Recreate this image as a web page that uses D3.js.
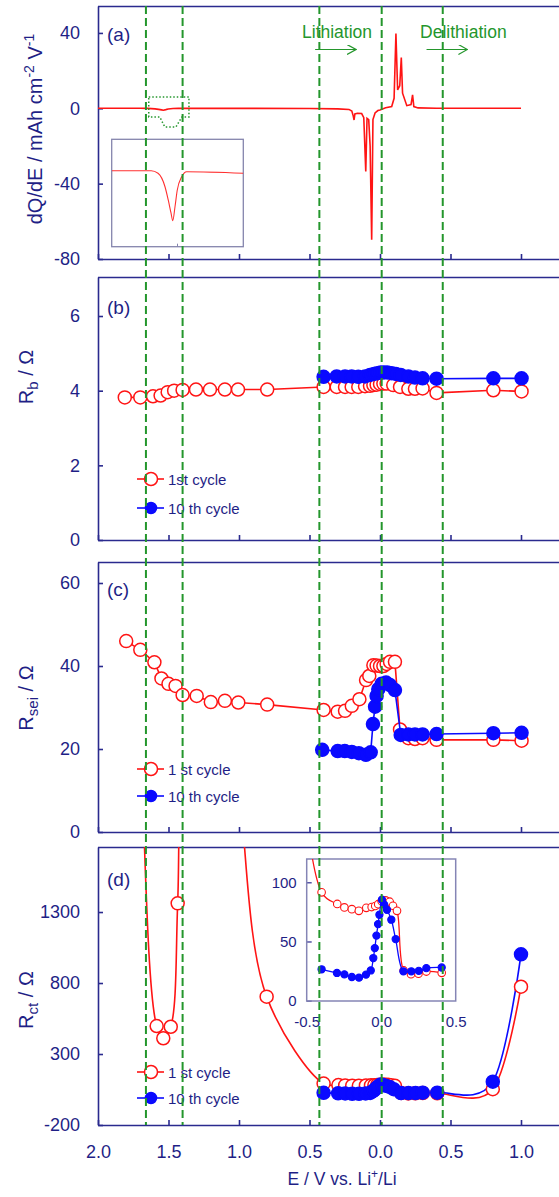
<!DOCTYPE html>
<html>
<head>
  <meta charset="utf-8">
  <title>dQ/dE and impedance vs potential</title>
  <script src="https://cdn.jsdelivr.net/npm/d3@7"></script>
  <style>
    body { margin: 0; background: #ffffff; }
    svg text { font-family: "Liberation Sans", Arial, sans-serif; fill: #1f1f86; }
    .axis path, .axis line { stroke: #2a2a8e; stroke-width: 1.6; }
    .axis text { font-size: 18px; }
    .inset path, .inset line { stroke: #2a2a8e; stroke-width: 1.2; }
    .inset text { font-size: 15px; }
  </style>
</head>
<body>
<script>
  // sweep coordinate: negative = lithiation (E going down from 2 V), positive = delithiation
  var xTicks = [-2, -1.5, -1, -0.5, 0, 0.5, 1];
  var yTicksA = [-80, -40, 0, 40];
  var yTicksB = [0, 2, 4, 6];
  var yTicksC = [0, 20, 40, 60];
  var yTicksD = [-200, 300, 800, 1300];
  var insetTicksD = [0, 50, 100];
  var insetXTicksD = [-0.5, 0, 0.5];
  var guideLines = [-1.66, -1.40, -0.43, 0.012, 0.445];
  var cycleNamesB = ["1st cycle", "10 th cycle"];
  var cycleNamesCD = ["1 st cycle", "10 th cycle"];

  // (a) dQ/dE, mAh cm-2 V-1
  var dqde = [[-2.0,0],[-1.70,0],[-1.648,-0.05],[-1.595,-0.32],[-1.570,-0.59],[-1.549,-0.85],
    [-1.536,-1.0],[-1.519,-0.72],[-1.502,-0.39],[-1.468,-0.12],[-1.430,-0.02],[-1.0,-0.05],
    [-0.5,-0.1],[-0.30,-0.3],
    [-0.22,-0.6],[-0.20,-1.5],[-0.19,-4],[-0.184,-6.2],[-0.178,-3],[-0.16,-2.6],[-0.13,-2.8],
    [-0.115,-5],[-0.101,-33.5],[-0.092,-5.3],[-0.08,-6],[-0.07,-20],[-0.059,-69.8],[-0.05,-6],
    [-0.035,-2.5],[-0.015,-1.2],[0,-0.9],[0.04,0.3],[0.083,0.9],[0.10,5.3],[0.113,39.7],
    [0.125,9.7],[0.14,12],[0.151,26.9],[0.16,8],[0.19,1.4],[0.22,2],[0.231,7.1],[0.24,0.9],
    [0.27,0.2],[0.40,0],[1.0,0]];

  // (b) Rb / ohm
  var rbFirst = [[-1.81,3.82],[-1.70,3.82],[-1.61,3.85],[-1.556,3.87],[-1.506,3.96],[-1.46,4.0],
    [-1.40,4.02],[-1.305,4.03],[-1.206,4.03],[-1.10,4.03],[-1.007,4.03],[-0.80,4.03],[-0.40,4.10],
    [-0.307,4.10],[-0.248,4.10],[-0.201,4.10],[-0.154,4.10],[-0.106,4.12],[-0.071,4.13],
    [-0.047,4.15],[-0.024,4.16],[0,4.18],[0.024,4.19],[0.047,4.19],[0.094,4.15],[0.142,4.10],
    [0.201,4.05],[0.248,4.05],[0.302,4.06],[0.401,3.94],[0.804,4.01],[1.004,3.98]];
  var rbTenth = [[-0.40,4.37],[-0.307,4.38],[-0.248,4.38],[-0.201,4.38],[-0.154,4.37],
    [-0.106,4.38],[-0.071,4.42],[-0.043,4.45],[-0.019,4.47],[0.005,4.49],[0.028,4.49],
    [0.052,4.49],[0.083,4.47],[0.113,4.45],[0.147,4.42],[0.201,4.38],[0.248,4.35],
    [0.302,4.33],[0.401,4.32],[0.804,4.33],[1.004,4.33]];

  // (c) Rsei / ohm
  var rseiFirst = [[-1.80,46.0],[-1.70,43.9],[-1.60,40.9],[-1.55,37.0],[-1.50,35.7],[-1.45,35.2],
    [-1.40,33.0],[-1.30,32.8],[-1.20,31.3],[-1.10,31.6],[-1.005,31.2],[-0.80,30.7],[-0.40,29.4],
    [-0.30,29.0],[-0.248,29.2],[-0.20,30.4],[-0.146,32.0],[-0.099,36.6],[-0.076,37.6],
    [-0.047,40.2],[-0.024,40.1],[0,40.0],[0.024,40.0],[0.047,40.5],[0.071,41.0],[0.106,41.0],
    [0.142,24.7],[0.201,22.6],[0.248,22.4],[0.302,22.6],[0.401,22.2],[0.804,22.2],[1.004,22.0]];
  var rseiTenth = [[-0.41,19.8],[-0.30,19.5],[-0.25,19.5],[-0.20,19.3],[-0.15,19.0],[-0.10,18.6],
    [-0.066,19.2],[-0.050,26.0],[-0.035,30.2],[-0.024,32.8],[-0.012,34.4],[0.012,35.7],
    [0.043,36.0],[0.071,35.4],[0.106,34.2],[0.147,23.4],[0.201,23.5],[0.248,23.5],[0.302,23.5],
    [0.401,23.6],[0.804,23.8],[1.004,23.9]];

  // (d) Rct / ohm (values above 1758 run off the top of the panel)
  var rctFirst = [[-1.81,6000],[-1.70,2560],[-1.584,497],[-1.537,411],[-1.484,492],[-1.435,1361],
    [-1.40,2900],[-1.30,3500],[-1.20,3300],[-1.10,2800],[-1.0,2150],[-0.804,704],
    [-0.40,91.5],[-0.295,81.7],[-0.247,78.8],[-0.197,77.3],[-0.150,75.9],[-0.100,78.4],
    [-0.064,79.1],[-0.040,80.0],[-0.020,81.5],[0.003,84.0],[0.030,84.7],[0.057,83.6],
    [0.079,80.2],[0.106,75.9],[0.151,25.5],[0.200,22.4],[0.250,22.8],[0.303,24.6],[0.406,23.5],
    [0.80,52],[1.0,774]];
  var rctTenth = [[-0.40,26.5],[-0.297,23.4],[-0.247,22.2],[-0.197,20.0],[-0.149,19.4],
    [-0.102,22.0],[-0.070,25.5],[-0.053,36],[-0.043,44.4],[-0.032,55],[-0.021,64.7],
    [-0.012,72.6],[0.005,85.3],[0.020,81.1],[0.039,76.8],[0.068,68.4],[0.097,52.0],
    [0.149,24.8],[0.202,24.8],[0.252,25.2],[0.303,27.5],[0.406,28.0],[0.80,105],[1.0,1002]];

  var navy = "#1f1f86", red = "#ff1414", blue = "#0a0aff", green = "#24962c";
  var width = 559, height = 1197;

  var svg = d3.select("body").append("svg")
    .attr("width", width)
    .attr("height", height);

  var x = d3.scaleLinear().domain([-2, 1.3]).range([98, 563.3]);
  var fmt = function(d) { return Math.abs(d).toFixed(1); };

  var panels = [
    {key: "a", top: 6,   bottom: 259,  ymin: -80, ymax: 54.3,  ticks: yTicksA, tag: 41},
    {key: "b", top: 277, bottom: 540,  ymin: 0,   ymax: 7.045, ticks: yTicksB, tag: 314},
    {key: "c", top: 562, bottom: 832,  ymin: 0,   ymax: 65.06, ticks: yTicksC, tag: 596},
    {key: "d", top: 847, bottom: 1125, ymin: -200, ymax: 1758, ticks: yTicksD, tag: 886}
  ];

  var defs = svg.append("defs");

  panels.forEach(function(p) {
    p.y = d3.scaleLinear().domain([p.ymin, p.ymax]).range([p.bottom, p.top]);

    defs.append("clipPath").attr("id", "clip-" + p.key)
      .append("rect")
      .attr("x", 98).attr("y", p.top)
      .attr("width", 470).attr("height", p.bottom - p.top);

    svg.append("g")
      .attr("class", "axis")
      .attr("transform", "translate(98,0)")
      .call(d3.axisLeft(p.y).tickValues(p.ticks).tickSizeInner(-5).tickSizeOuter(0).tickPadding(18)
        .tickFormat(function(d) { return String(d); }));

    svg.append("g")
      .attr("class", "axis")
      .attr("transform", "translate(0," + p.bottom + ")")
      .call(d3.axisBottom(x).tickValues(xTicks).tickSizeInner(-5).tickSizeOuter(0).tickPadding(20)
        .tickFormat(p.key === "d" ? fmt : ""));

    svg.append("line")
      .attr("x1", 98).attr("x2", 563)
      .attr("y1", p.top + 0.5).attr("y2", p.top + 0.5)
      .attr("stroke", "#2a2a8e").attr("stroke-width", 1.6);

    svg.append("text")
      .attr("x", 107).attr("y", p.tag)
      .style("font-size", "19px")
      .text("(" + p.key + ")");
  });

  var pa = panels[0], pb = panels[1], pc = panels[2], pd = panels[3];

  // ---------- (a) ----------
  svg.append("path")
    .datum(dqde)
    .attr("clip-path", "url(#clip-a)")
    .attr("fill", "none")
    .attr("stroke", red)
    .attr("stroke-width", 1.6)
    .attr("d", d3.line().x(function(d) { return x(d[0]); }).y(function(d) { return pa.y(d[1]); }));

  // inset of the small peak
  var ax = d3.scaleLinear().domain([-2, -1]).range([111.7, 243.3]);
  var ay = d3.scaleLinear().domain([-1.52, 0.63]).range([246.7, 139.3]);
  defs.append("clipPath").attr("id", "clip-ia").append("rect")
    .attr("x", 111.7).attr("y", 139.3).attr("width", 131.6).attr("height", 107.4);
  svg.append("rect")
    .attr("x", 111.7).attr("y", 139.3).attr("width", 131.6).attr("height", 107.4)
    .attr("fill", "none").attr("stroke", "#8585ad").attr("stroke-width", 1.3);
  svg.append("path")
    .datum(dqde.filter(function(d) { return d[0] >= -2 && d[0] <= -1; }))
    .attr("clip-path", "url(#clip-ia)")
    .attr("fill", "none")
    .attr("stroke", "#ff3030")
    .attr("stroke-width", 1.1)
    .attr("d", d3.line().curve(d3.curveMonotoneX)
      .x(function(d) { return ax(d[0]); }).y(function(d) { return ay(d[1]); }));
  svg.append("line")
    .attr("x1", ax(-1.5)).attr("x2", ax(-1.5))
    .attr("y1", 246.7).attr("y2", 243.7)
    .attr("stroke", "#8585ad");

  // dotted callout around the small peak
  var cx0 = x(-1.64), cx1 = x(-1.355);
  var cy0 = pa.y(6.0), cy1 = pa.y(-4.6), cy2 = pa.y(-9.9);
  svg.append("path")
    .attr("d", "M" + cx0 + "," + cy0 + "H" + cx1 + "V" + cy1 + "H" + (cx1 - 7) +
      "L" + (cx1 - 13) + "," + cy2 + "H" + (cx0 + 16) + "L" + (cx0 + 11) + "," + cy1 +
      "H" + cx0 + "Z")
    .attr("fill", "none")
    .attr("stroke", green)
    .attr("stroke-width", 1.5)
    .attr("stroke-dasharray", "1.5,2");

  // lithiation / delithiation annotations
  defs.append("marker").attr("id", "arrow")
    .attr("viewBox", "0 0 10 10").attr("refX", 9).attr("refY", 5)
    .attr("markerWidth", 10).attr("markerHeight", 10)
    .attr("markerUnits", "userSpaceOnUse").attr("orient", "auto")
    .append("path").attr("d", "M0,0L9,5L0,10")
    .attr("fill", "none").attr("stroke", green).attr("stroke-width", 1.2);

  [["Lithiation", -0.553, -0.46, -0.17], ["Delithiation", 0.284, 0.33, 0.62]].forEach(function(t) {
    svg.append("text")
      .attr("x", x(t[1])).attr("y", 38)
      .style("font-size", "17.5px")
      .style("fill", green)
      .text(t[0]);
    svg.append("line")
      .attr("x1", x(t[2])).attr("x2", x(t[3]))
      .attr("y1", 49.5).attr("y2", 49.5)
      .attr("stroke", green).attr("stroke-width", 1.2)
      .attr("marker-end", "url(#arrow)");
  });

  // ---------- helpers for the impedance panels ----------
  function linePath(p, data, curve) {
    return svg.append("path")
      .datum(data)
      .attr("clip-path", "url(#clip-" + p.key + ")")
      .attr("fill", "none")
      .attr("stroke-width", 1.6)
      .attr("d", d3.line().curve(curve)
        .x(function(d) { return x(d[0]); })
        .y(function(d) { return p.y(d[1]); }));
  }

  function drawMarkers(p, data, color, filled, r) {
    svg.append("g").attr("clip-path", "url(#clip-" + p.key + ")")
      .selectAll("circle")
      .data(data.filter(function(d) { return d[1] >= p.ymin && d[1] <= p.ymax; }))
      .enter()
      .append("circle")
      .attr("cx", function(d) { return x(d[0]); })
      .attr("cy", function(d) { return p.y(d[1]); })
      .attr("r", r)
      .attr("fill", filled ? color : "#ffffff")
      .attr("stroke", color)
      .attr("stroke-width", 1.5);
  }

  function drawSeries(p, data, color, filled, r) {
    linePath(p, data, d3.curveLinear).attr("stroke", color);
    drawMarkers(p, data, color, filled, r);
  }

  function drawLegend(names, yRed, yBlue) {
    [[names[0], yRed, red, false], [names[1], yBlue, blue, true]].forEach(function(l) {
      svg.append("line")
        .attr("x1", 137).attr("x2", 164)
        .attr("y1", l[1]).attr("y2", l[1])
        .attr("stroke", l[2]).attr("stroke-width", 1.6);
      svg.append("circle")
        .attr("cx", 151).attr("cy", l[1]).attr("r", l[3] ? 5.5 : 6.5)
        .attr("fill", l[3] ? l[2] : "#ffffff")
        .attr("stroke", l[2]).attr("stroke-width", 1.5);
      svg.append("text")
        .attr("x", 168).attr("y", l[1] + 6)
        .style("font-size", "15px")
        .text(l[0]);
    });
  }

  // ---------- (b) ----------
  drawSeries(pb, rbFirst, red, false, 6.5);
  drawSeries(pb, rbTenth, blue, true, 6.5);
  drawLegend(cycleNamesB, 479, 508);

  // ---------- (c) ----------
  drawSeries(pc, rseiFirst, red, false, 6.5);
  drawSeries(pc, rseiTenth, blue, true, 6.5);
  drawLegend(cycleNamesCD, 769, 796);

  // ---------- (d) ----------
  // smooth curve; the last stretch (0.3 V delithiation onward) uses the uniform spline
  [[rctFirst, red, false], [rctTenth, blue, true]].forEach(function(s) {
    var n = s[0].length;
    linePath(pd, s[0].slice(0, n - 2), d3.curveCatmullRom).attr("stroke", s[1]);
    linePath(pd, s[0].slice(n - 4), d3.curveCatmullRom.alpha(0)).attr("stroke", s[1]);
  });
  drawMarkers(pd, rctFirst, red, false, 6.5);
  drawMarkers(pd, rctTenth, blue, true, 6.5);
  drawLegend(cycleNamesCD, 1072, 1098);

  // inset of the low-potential region
  var ix = d3.scaleLinear().domain([-0.5, 0.5]).range([306.7, 455.7]);
  var iy = d3.scaleLinear().domain([-0.3, 119.7]).range([1001, 859]);
  defs.append("clipPath").attr("id", "clip-id").append("rect")
    .attr("x", 306.7).attr("y", 859).attr("width", 149).attr("height", 142);
  var ig = svg.append("g");
  ig.append("g")
    .attr("class", "inset")
    .attr("transform", "translate(306.7,0)")
    .call(d3.axisLeft(iy).tickValues(insetTicksD).tickSizeInner(-5).tickSizeOuter(0).tickPadding(10)
      .tickFormat(function(d) { return String(d); }))
    .select(".domain").remove();
  ig.append("g")
    .attr("class", "inset")
    .attr("transform", "translate(0,1001)")
    .call(d3.axisBottom(ix).tickValues(insetXTicksD).tickSize(0).tickPadding(15)
      .tickFormat(function(d) { return d.toFixed(1); }))
    .select(".domain").remove();
  ig.append("rect")
    .attr("x", 306.7).attr("y", 859).attr("width", 149).attr("height", 142)
    .attr("fill", "none").attr("stroke", "#8585b5").attr("stroke-width", 1.5);

  [[rctFirst, red, false], [rctTenth, blue, true]].forEach(function(s) {
    var pts = s[0].filter(function(d) { return d[0] >= -0.9 && d[0] <= 0.45; });
    var g = ig.append("g").attr("clip-path", "url(#clip-id)");
    g.append("path")
      .datum(pts)
      .attr("fill", "none")
      .attr("stroke", s[1])
      .attr("stroke-width", 1.3)
      .attr("d", d3.line().curve(d3.curveCatmullRom)
        .x(function(d) { return ix(d[0]); }).y(function(d) { return iy(d[1]); }));
    g.selectAll("circle")
      .data(pts.filter(function(d) { return d[1] <= 119.7; }))
      .enter()
      .append("circle")
      .attr("cx", function(d) { return ix(d[0]); })
      .attr("cy", function(d) { return iy(d[1]); })
      .attr("r", s[2] ? 3.6 : 3.8)
      .attr("fill", s[2] ? s[1] : "#ffffff")
      .attr("stroke", s[1])
      .attr("stroke-width", 1.1);
  });

  // ---------- axis titles ----------
  var ta = svg.append("text")
    .attr("transform", "translate(42,129) rotate(-90)")
    .attr("text-anchor", "middle")
    .style("font-size", "20px");
  ta.append("tspan").text("dQ/dE / mAh cm");
  ta.append("tspan").attr("dy", -8).style("font-size", "14px").text("-2");
  ta.append("tspan").attr("dy", 8).text(" V");
  ta.append("tspan").attr("dy", -8).style("font-size", "14px").text("-1");

  [["b", 377], ["sei", 698], ["ct", 1000]].forEach(function(t) {
    var tt = svg.append("text")
      .attr("transform", "translate(33," + t[1] + ") rotate(-90)")
      .attr("text-anchor", "middle")
      .style("font-size", "20px");
    tt.append("tspan").text("R");
    tt.append("tspan").attr("dy", 5).style("font-size", "15px").text(t[0]);
    tt.append("tspan").attr("dy", -5).text(" / \u03A9");
  });

  var tx = svg.append("text")
    .attr("x", 342).attr("y", 1185)
    .attr("text-anchor", "middle")
    .style("font-size", "17.5px");
  tx.append("tspan").text("E / V vs. Li");
  tx.append("tspan").attr("dy", -7).style("font-size", "12px").text("+");
  tx.append("tspan").attr("dy", 7).text("/Li");

  // ---------- dashed guide lines through all panels ----------
  svg.selectAll(".guide")
    .data(guideLines)
    .enter()
    .append("line")
    .attr("class", "guide")
    .attr("x1", function(d) { return x(d); })
    .attr("x2", function(d) { return x(d); })
    .attr("y1", 6).attr("y2", 1125)
    .attr("stroke", green)
    .attr("stroke-width", 2)
    .attr("stroke-dasharray", "8,4");
</script>
</body>
</html>
